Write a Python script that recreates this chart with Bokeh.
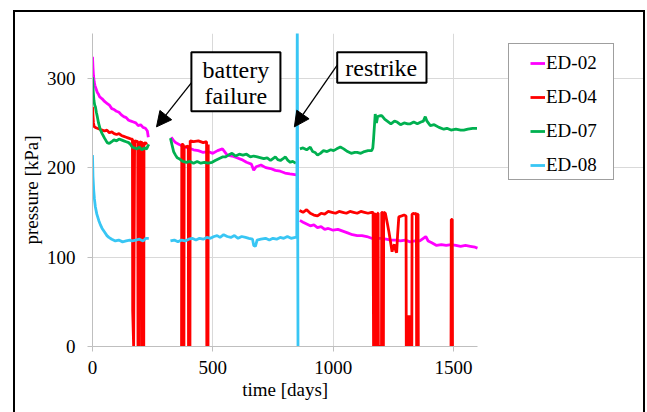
import math
from bokeh.plotting import figure
from bokeh.models import (Range1d, FixedTicker, Legend, LegendItem, BoxAnnotation,
                          Label, Arrow, NormalHead, Title)
from bokeh.embed import file_html
from bokeh.resources import INLINE

NaN = float("nan")

x_ticks = [0, 500, 1000, 1500]
y_ticks = [0, 100, 200, 300]
x_max = 1600
y_max = 350
series_names = ["ED-02", "ED-04", "ED-07", "ED-08"]

ed02_days = [0, 2, 4, 7, 10, 15, 20, 25, 30, 40, 50, 60, 70, 80, 90, 100, 110, 120, 130, 140, 150,
             160, 170, 180, 190, 200, 210, 220, 228, 232, 280,
             327, 335, 345, 360, 380, 400, 420, 440, 460, 480, 500, 520, 540, 560, 580, 600, 620, 640,
             660, 670, 680, 700, 720, 740, 760, 780, 800, 820, 848, 855,
             862, 875, 890, 905, 920, 935, 950, 965, 980, 1000, 1020, 1040, 1060, 1080, 1100, 1120,
             1140, 1160, 1180, 1200, 1220, 1240, 1260, 1280, 1300, 1320, 1340, 1360, 1375, 1385,
             1395, 1410, 1430, 1450, 1470, 1490, 1510, 1530, 1550, 1570, 1590, 1600]
ed02_kpa = [324, 312, 303, 296, 292, 288, 284, 282, 279, 277, 274, 272, 270, 266, 265, 263, 262, 259,
            257, 256, 253, 252, 251, 250, 247, 248, 245, 244, 241, 234, NaN,
            234, 231, 228, 226, 223, 222, 220, 219, 217, 218, 216, 219, 221, 214, 213, 211, 209, 206,
            204, 197, 201, 203, 200, 199, 197, 196, 194, 193, 192, NaN,
            141, 139, 137, 135, 136, 133, 134, 131, 132, 130, 131, 129, 127, 125, 124, 124, 123, 121,
            121, 121, 120, 119, 119, 118, 119, 117, 118, 118, 121, 123, 118, 116, 113, 114, 113, 114,
            113, 112, 113, 112, 111, 110]

ed04_days = [0, 2, 4, 7, 12, 20, 30, 40, 50, 60, 70, 80, 90, 100, 110, 120, 130, 140, 150, 160, 166,
             167, 171, 175, 188, 189, 195, 196, 206, 207, 213, 214, 220, 226, 300,
             370, 371, 377, 378, 380, 381, 398, 399, 405, 406, 420, 440, 460, 474, 475, 480, 481, 500,
             860, 875, 890, 905, 920, 935, 950, 965, 980, 995, 1010, 1025, 1040, 1055, 1070, 1085,
             1100, 1115, 1130, 1145, 1160, 1166, 1168, 1172, 1173, 1177, 1178, 1184, 1185, 1187,
             1188, 1201, 1202, 1205, 1206, 1209, 1210, 1217, 1225, 1232, 1238, 1245, 1250, 1255,
             1260, 1264, 1268, 1273, 1285, 1295, 1303, 1304, 1307, 1308, 1311, 1314, 1317, 1320,
             1323, 1326, 1327, 1328, 1335, 1340, 1346, 1347, 1350, 1351, 1353, 1354, 1400,
             1490, 1491, 1495, 1496]
ed04_kpa = [268, 258, 250, 246, 245, 244, 243, 242, 241, 242, 239, 240, 238, 237, 238, 236, 235, 234,
            233, 232, 232, 40, 0, 230, 229, 0, 0, 229, 228, 0, 0, 227, 228, 226, NaN,
            0, 226, 226, 0, 0, 223, 224, 0, 0, 230, 229, 230, 228, 229, 0, 0, 226, NaN,
            152, 150, 153, 149, 147, 146, 149, 148, 151, 150, 149, 151, 150, 149, 151, 150, 149, 151,
            150, 149, 150, 150, 0, 0, 148, 148, 0, 0, 149, 149, 0, 0, 150, 150, 0, 0, 150, 149, 138,
            128, 118, 106, 112, 114, 107, 105, 125, 145, 146, 147, 146, 0, 0, 35, 0, 35, 0, 35, 0, 35,
            0, 148, 149, 148, 149, 0, 0, 148, 148, 0, NaN,
            0, 142, 142, 0]

ed07_days = [0, 3, 6, 9, 12, 16, 20, 25, 32, 40, 50, 61, 70, 80, 89, 100, 110, 120, 130, 140, 150, 158,
             165, 175, 185, 195, 205, 215, 225, 230, 234, 280,
             324, 330, 337, 345, 352, 360, 375, 390, 405, 420, 435, 450, 465, 480, 497, 510, 525, 540,
             552, 565, 580, 595, 610, 625, 640, 656, 670, 685, 700, 712, 726, 740, 750, 760, 770, 781,
             792, 802, 812, 822, 832, 845, 855,
             862, 875, 890, 905, 915, 925, 935, 947, 960, 975, 990, 1002, 1015, 1030, 1044, 1060,
             1075, 1090, 1100, 1115, 1130, 1145, 1160, 1165, 1168, 1175, 1180, 1185, 1195, 1203,
             1215, 1225, 1240, 1255, 1266, 1280, 1295, 1310, 1321, 1335, 1350, 1365, 1375, 1383,
             1390, 1404, 1420, 1440, 1460, 1473, 1490, 1510, 1530, 1543, 1560, 1580, 1598]
ed07_kpa = [301, 285, 275, 270, 268, 262, 257, 250, 243, 238, 233, 228, 227, 229, 231, 230, 232, 231,
            230, 229, 228, 226, 223, 222, 221, 223, 220, 222, 221, 224, 226, NaN,
            233, 226, 218, 214, 211, 210, 207, 206, 207, 205, 207, 205, 206, 205, 206, 208, 210, 212,
            212, 214, 216, 213, 215, 214, 215, 212, 213, 212, 211, 210, 211, 208, 210, 212, 209, 208,
            210, 212, 208, 206, 207, 205, NaN,
            221, 222, 220, 223, 218, 217, 214, 216, 219, 218, 220, 219, 221, 223, 221, 218, 216, 217,
            217, 216, 218, 219, 219, 222, 232, 260, 250, 257, 258, 258, 254, 252, 249, 252, 251, 248,
            250, 249, 249, 251, 249, 251, 252, 257, 252, 247, 248, 245, 243, 244, 242, 243, 242, 242,
            243, 244, 244]

ed08_days = [0, 2, 5, 8, 12, 18, 26, 33, 40, 50, 60, 68, 80, 95, 109, 125, 140, 155, 165, 180, 195,
             210, 222, 234, 280,
             324, 340, 355, 370, 385, 400, 414, 430, 445, 460, 475, 490, 505, 518, 530, 545, 560, 575,
             590, 605, 620, 636, 650, 665, 670, 677, 684, 700, 719, 735, 750, 765, 780, 795, 810, 825,
             843, 849, 851, 854]
ed08_kpa = [214, 190, 175, 165, 156, 148, 141, 136, 132, 128, 124, 122, 120, 118, 119, 117, 118, 119,
            118, 119, 120, 118, 121, 121, NaN,
            118, 119, 117, 119, 118, 120, 121, 119, 121, 120, 122, 121, 123, 124, 122, 125, 123, 122,
            124, 121, 123, 122, 121, 120, 113, 112, 119, 120, 121, 119, 121, 120, 122, 121, 123, 121,
            122, 122, 365, 0]

for d, v in [(ed02_days, ed02_kpa), (ed04_days, ed04_kpa), (ed07_days, ed07_kpa), (ed08_days, ed08_kpa)]:
    assert len(d) == len(v), (len(d), len(v))

colors = ["#FF00FF", "#FF0000", "#00B050", "#38C6F4"]
SERIF = "Liberation Serif"

# The frame is widened to the right so that the legend (which sits beside the
# data area) lies inside the frame; the axis and grid lines are bounded to 0..x_max.
DATA_PX = 385      # pixel width of the 0..x_max data area
FRAME_PX = 551     # pixel width of the whole frame
x_end = x_max * FRAME_PX / DATA_PX

p = figure(width=628, height=400, x_range=Range1d(0, x_end), y_range=Range1d(0, y_max),
           output_backend="svg", toolbar_location=None,
           min_border_left=77, min_border_right=0, min_border_top=21, min_border_bottom=66,
           styles={"margin-left": "15px", "margin-top": "12px",
                   "box-shadow": "0 0 0 2px black"})
p.outline_line_color = None
p.background_fill_color = "white"
p.border_fill_color = "white"

for ax in (p.xaxis[0], p.yaxis[0]):
    ax.axis_line_color = "#bfbfbf"
    ax.major_tick_line_color = "#bfbfbf"
    ax.major_tick_in = 0
    ax.major_tick_out = 5
    ax.minor_tick_line_color = None
    ax.major_label_text_font = SERIF
    ax.major_label_text_font_size = "19px"
    ax.major_label_text_color = "black"
    ax.axis_label_text_font = SERIF
    ax.axis_label_text_font_size = "19px"
    ax.axis_label_text_font_style = "normal"
    ax.axis_label_text_color = "black"
    ax.axis_label_standoff = 2
p.xaxis.ticker = FixedTicker(ticks=x_ticks)
p.yaxis.ticker = FixedTicker(ticks=y_ticks)
p.xaxis.bounds = (0, x_max)
p.xaxis.major_label_standoff = 9
p.yaxis.major_label_standoff = 12
p.yaxis.axis_label = "pressure [kPa]"
p.xgrid.grid_line_color = "#d9d9d9"
p.ygrid.grid_line_color = "#d9d9d9"
p.ygrid.bounds = (0, x_max)

# x-axis title, centred under the 0..x_max data area
p.add_layout(Title(text="time [days]", align="left", offset=149.7, standoff=0,
                   text_font=SERIF, text_font_size="19px", text_font_style="normal",
                   text_color="black"), "below")

rs = []
for (d, v), c in zip([(ed02_days, ed02_kpa), (ed04_days, ed04_kpa), (ed07_days, ed07_kpa),
                      (ed08_days, ed08_kpa)], colors):
    rs.append(p.line(d, v, line_color=c, line_width=2.8))

# annotations: arrows, boxes, texts
head = dict(size=15, fill_color="black", line_color="black", line_width=1)
p.add_layout(Arrow(end=NormalHead(**head), x_start=414, y_start=296, x_end=266, y_end=245.6,
                   line_color="black", line_width=1.3))
p.add_layout(Arrow(end=NormalHead(**head), x_start=1017, y_start=314.7, x_end=839, y_end=245.6,
                   line_color="black", line_width=1.3))
p.add_layout(BoxAnnotation(left=411, right=781, top=329, bottom=263, fill_color="white",
                           fill_alpha=1, line_color="black", line_width=2, line_alpha=1))
p.add_layout(BoxAnnotation(left=1017, right=1388, top=329, bottom=295, fill_color="white",
                           fill_alpha=1, line_color="black", line_width=2, line_alpha=1))
lab = dict(text_align="center", text_baseline="alphabetic", text_font=SERIF,
           text_font_size="24px", text_color="black")
p.add_layout(Label(x=596, y=309.4, text="battery", **lab))
p.add_layout(Label(x=596, y=279.6, text="failure", **lab))
p.add_layout(Label(x=1200, y=311.5, text="restrike", **lab))

# legend box (drawn via an empty legend) and legend entries
dummy = p.line([], [], line_alpha=0)
box_legend = Legend(items=[LegendItem(label=" ", renderers=[dummy])], location=(416, 166),
                    padding=0, spacing=0, margin=0, label_standoff=0, glyph_width=104,
                    glyph_height=135, label_width=0, label_height=0, label_text_font_size="1px",
                    border_line_color="#404040", border_line_width=1,
                    background_fill_color="white", background_fill_alpha=1)
p.add_layout(box_legend, "center")
legend = Legend(items=[LegendItem(label=n, renderers=[r]) for n, r in zip(series_names, rs)],
                location=(438, 170), padding=6, spacing=12, margin=0, label_standoff=1,
                glyph_width=15, glyph_height=22, label_height=22,
                label_text_font=SERIF, label_text_font_size="19px", label_text_color="black",
                border_line_color=None, background_fill_alpha=0)
p.add_layout(legend, "center")

open("out.html", "w").write(file_html(p, INLINE))
